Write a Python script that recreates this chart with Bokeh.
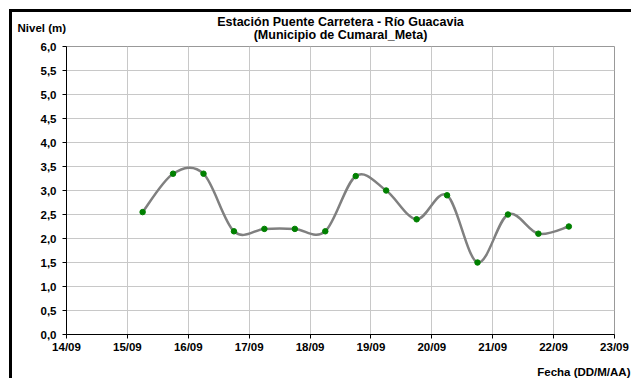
from datetime import datetime
import numpy as np
import pandas as pd
from bokeh.plotting import figure
from bokeh.models import Range1d, FixedTicker, DaysTicker, DatetimeTickFormatter, Label
from bokeh.embed import file_html
from bokeh.resources import INLINE

# ---- data ----
times = ["2013-09-15 06:00", "2013-09-15 18:00", "2013-09-16 06:00", "2013-09-16 18:00",
         "2013-09-17 06:00", "2013-09-17 18:00", "2013-09-18 06:00", "2013-09-18 18:00",
         "2013-09-19 06:00", "2013-09-19 18:00", "2013-09-20 06:00", "2013-09-20 18:00",
         "2013-09-21 06:00", "2013-09-21 18:00", "2013-09-22 06:00"]
levels = [2.55, 3.35, 3.35, 2.15, 2.2, 2.2, 2.15, 3.3, 3.0, 2.4, 2.9, 1.5, 2.5, 2.1, 2.25]
y_ticks = [0.0, 0.5, 1.0, 1.5, 2.0, 2.5, 3.0, 3.5, 4.0, 4.5, 5.0, 5.5, 6.0]
title_lines = ["Estación Puente Carretera - Río Guacavia", "(Municipio de Cumaral_Meta)"]
y_label = "Nivel (m)"
x_label = "Fecha (DD/M/AA)"

FONT = "Liberation Sans"

x = pd.to_datetime(times).astype("int64").to_numpy() / 1e6  # ms
y = np.array(levels)

p = figure(width=622, height=369, x_axis_type="datetime",
           x_range=Range1d(datetime(2013, 9, 14), datetime(2013, 9, 23)),
           y_range=Range1d(0, 6), title=None,
           output_backend="svg", toolbar_location=None,
           min_border_left=54, min_border_right=20, min_border_top=34, min_border_bottom=47)
p.styles = {"border-left": "3px solid black", "border-top": "3px solid black",
            "margin-left": "9px", "margin-top": "9px"}

# smoothed line (Catmull-Rom style bezier through the data points)
n = len(x)
xp = np.concatenate([[x[0]], x, [x[-1]]])
yp = np.concatenate([[y[0]], y, [y[-1]]])
x0s, y0s, x1s, y1s, cx0, cy0, cx1, cy1 = [], [], [], [], [], [], [], []
for i in range(n - 1):
    j = i + 1
    x0s.append(x[i]); y0s.append(y[i]); x1s.append(x[i + 1]); y1s.append(y[i + 1])
    cx0.append(x[i] + (xp[j + 1] - xp[j - 1]) / 6)
    cy0.append(y[i] + (yp[j + 1] - yp[j - 1]) / 6)
    cx1.append(x[i + 1] - (xp[j + 2] - xp[j]) / 6)
    cy1.append(y[i + 1] - (yp[j + 2] - yp[j]) / 6)
p.bezier(x0=x0s, y0=y0s, x1=x1s, y1=y1s, cx0=cx0, cy0=cy0, cx1=cx1, cy1=cy1,
         line_color="#808080", line_width=2.5)
p.scatter(x, y, size=5.5, fill_color="#008000", line_color="#008000")

# axes
p.xaxis.ticker = DaysTicker(days=list(range(1, 32)))
p.xaxis.formatter = DatetimeTickFormatter(days="%d/%m", months="%d/%m", hours="%d/%m")
p.yaxis.ticker = FixedTicker(ticks=y_ticks)
p.yaxis.major_label_overrides = {t: f"{t:.1f}".replace(".", ",") for t in y_ticks}
for ax in (p.xaxis, p.yaxis):
    ax.axis_line_color = "black"
    ax.axis_line_width = 1
    ax.major_tick_line_color = "black"
    ax.major_tick_in = 0
    ax.major_tick_out = 4
    ax.minor_tick_line_color = None
    ax.major_label_text_font = FONT
    ax.major_label_text_font_style = "bold"
    ax.major_label_text_font_size = "11.5px"
    ax.major_label_text_color = "black"
p.xaxis.major_label_standoff = 2
p.yaxis.major_label_standoff = 6

p.xgrid.grid_line_color = "#c8c8c8"
p.ygrid.grid_line_color = "#c8c8c8"
p.xgrid.ticker = p.xaxis.ticker
p.outline_line_color = "#999999"
p.outline_line_width = 1

# texts (placed in side panels so they are not clipped to the frame)
def label(text, size, **kw):
    return Label(text=text, x_units="screen", y_units="screen", text_font=FONT,
                 text_font_style="bold", text_font_size=size, text_color="black", **kw)

p.add_layout(label("\n".join(title_lines), "12.5px", x=274, y=18, text_align="center",
                   text_baseline="middle", text_line_height=0.95), "above")
p.add_layout(label(y_label, "11.5px", x=-49, y=340, text_align="left",
                   text_baseline="middle"), "below")
p.add_layout(label(x_label, "11.5px", x=564, y=8, text_align="right",
                   text_baseline="middle"), "below")

open("out.html", "w").write(file_html(p, INLINE))
